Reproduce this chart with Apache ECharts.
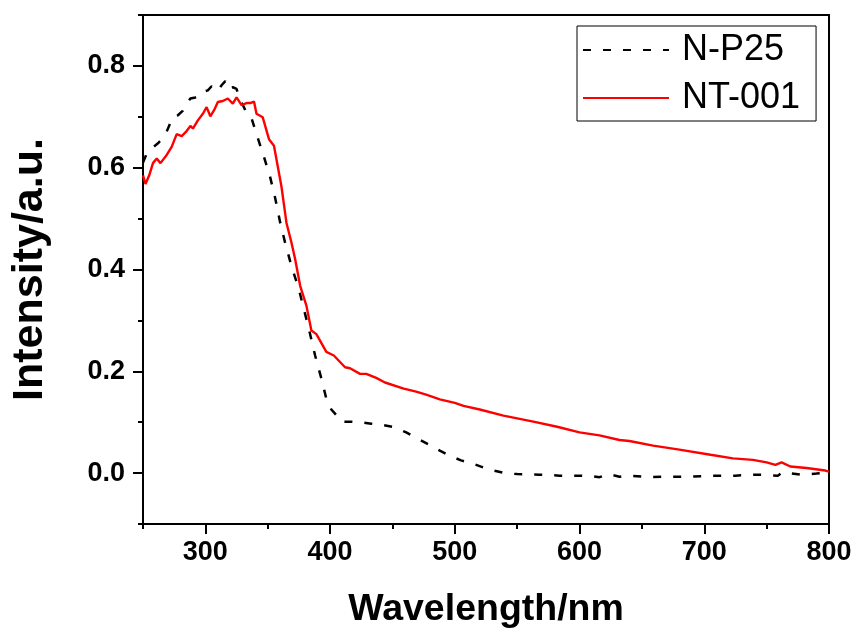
<!DOCTYPE html>
<html>
<head>
<meta charset="utf-8">
<script src="https://cdn.jsdelivr.net/npm/echarts@6/dist/echarts.min.js"></script>
<style>html,body{margin:0;padding:0;background:#fff;}#c{width:859px;height:634px;}</style>
</head>
<body>
<div id="c"></div>
<script>
// ---- Data ----
const seriesNames = ['N-P25', 'NT-001'];

const np25Wavelength = [250,253,257,262,266,269,274,278,282,285,288,292,296,298,302,305,310,313,316,318,322,325,327,332,336,341,347,352,356,360,364,369,375,379,383,388,393,397,401,405,409,416,424,433,443,452,461,470,480,488,496,505,515,523,531,540,550,568,584,600,610,616,623,632,640,656,672,688,707,725,742,759,763,777,790,800];
const np25Values = [0.610,0.628,0.638,0.648,0.658,0.671,0.700,0.703,0.712,0.726,0.736,0.738,0.742,0.749,0.752,0.760,0.751,0.762,0.770,0.755,0.758,0.755,0.739,0.713,0.705,0.666,0.621,0.581,0.540,0.492,0.452,0.407,0.361,0.322,0.283,0.231,0.186,0.146,0.125,0.114,0.101,0.101,0.100,0.097,0.094,0.090,0.080,0.068,0.055,0.044,0.034,0.025,0.018,0.011,0.005,0.000,-0.002,-0.003,-0.005,-0.005,-0.006,-0.008,-0.002,-0.007,-0.005,-0.008,-0.007,-0.007,-0.005,-0.005,-0.003,-0.005,0.002,-0.003,-0.001,0.002];

const nt001Wavelength = [250,252,255,258,261,264,269,273,277,281,285,288,290,294,298,301,304,307,310,314,318,322,325,329,333,336,339,341,346,351,355,361,365,369,372,376,381,385,389,397,403,412,416,424,429,437,444,459,469,477,488,500,507,520,539,563,582,600,616,632,640,659,680,705,723,739,750,757,762,769,782,797,800];
const nt001Values = [0.585,0.568,0.585,0.609,0.618,0.609,0.625,0.641,0.666,0.662,0.672,0.682,0.677,0.693,0.706,0.719,0.701,0.713,0.729,0.731,0.736,0.726,0.738,0.723,0.727,0.727,0.730,0.706,0.699,0.656,0.643,0.563,0.492,0.453,0.420,0.368,0.329,0.280,0.273,0.238,0.231,0.208,0.206,0.195,0.195,0.187,0.178,0.166,0.160,0.154,0.145,0.138,0.132,0.125,0.113,0.101,0.091,0.080,0.074,0.065,0.063,0.054,0.046,0.036,0.029,0.026,0.021,0.016,0.021,0.013,0.010,0.005,0.003];

const xMajorTicks = [300,400,500,600,700,800];
const yMajorTicks = [0.0,0.2,0.4,0.6,0.8];

// ---- Chart ----
const FONT = 'Liberation Sans, Arial, sans-serif';
const zip = (xs, ys) => xs.map((x, i) => [x, ys[i]]);
const chart = echarts.init(document.getElementById('c'), null, {renderer: 'canvas'});

const axisLineStyle = {color: '#000', width: 2};

chart.setOption({
  animation: false,
  backgroundColor: '#fff',
  grid: {left: 143, top: 15, right: 30, bottom: 107, show: true, borderColor: '#000', borderWidth: 2, backgroundColor: 'transparent'},
  legend: {
    data: seriesNames,
    orient: 'vertical',
    left: 577, top: 26,
    itemWidth: 86, itemHeight: 14, itemGap: 8,
    borderColor: '#000', borderWidth: 1,
    padding: [4, 16, 3, 5],
    itemStyle: {opacity: 0},
    textStyle: {fontSize: 36, fontFamily: FONT, color: '#000', lineHeight: 40, padding: [0, 0, 0, 8]}
  },
  xAxis: [{
    type: 'value', min: 250, max: 800, interval: 50,
    name: 'Wavelength/nm', nameLocation: 'middle', nameGap: 67,
    nameTextStyle: {fontSize: 37.5, fontWeight: 'bold', fontFamily: FONT, color: '#000'},
    axisLine: {show: true, onZero: false, lineStyle: axisLineStyle},
    axisTick: {show: true, length: 5, lineStyle: axisLineStyle},
    axisLabel: {fontSize: 27, fontWeight: 'bold', fontFamily: FONT, color: '#000', margin: 15,
      formatter: v => (Math.round(v) % 100 === 0 ? String(Math.round(v)) : '')},
    splitLine: {show: false}
  }, {
    type: 'value', min: 250, max: 800, position: 'bottom',
    axisLine: {show: false, onZero: false},
    axisTick: {show: true, length: 10, customValues: xMajorTicks, lineStyle: axisLineStyle},
    axisLabel: {show: false},
    splitLine: {show: false}
  }],
  yAxis: [{
    type: 'value', min: -0.1, max: 0.9, interval: 0.1,
    name: 'Intensity/a.u.', nameLocation: 'middle', nameGap: 91,
    nameTextStyle: {fontSize: 43, fontWeight: 'bold', fontFamily: FONT, color: '#000'},
    axisLine: {show: true, onZero: false, lineStyle: axisLineStyle},
    axisTick: {show: true, length: 5, lineStyle: axisLineStyle},
    axisLabel: {fontSize: 27, fontWeight: 'bold', fontFamily: FONT, color: '#000', margin: 18,
      formatter: v => {
        const k = Math.round(v * 10);
        return (k >= 0 && k <= 8 && k % 2 === 0) ? (k / 10).toFixed(1) : '';
      }},
    splitLine: {show: false}
  }, {
    type: 'value', min: -0.1, max: 0.9, position: 'left',
    axisLine: {show: false, onZero: false},
    axisTick: {show: true, length: 10, customValues: yMajorTicks, lineStyle: axisLineStyle},
    axisLabel: {show: false},
    splitLine: {show: false}
  }],
  series: [{
    name: seriesNames[0], type: 'line', xAxisIndex: 0, yAxisIndex: 0,
    data: zip(np25Wavelength, np25Values),
    showSymbol: false, symbol: 'none',
    lineStyle: {color: '#000', width: 2.5, type: [8, 12]},
    itemStyle: {color: '#000'}
  }, {
    name: seriesNames[1], type: 'line', xAxisIndex: 0, yAxisIndex: 0,
    data: zip(nt001Wavelength, nt001Values),
    showSymbol: false, symbol: 'none',
    lineStyle: {color: '#ff0000', width: 2.4},
    itemStyle: {color: '#ff0000'}
  }]
});
</script>
</body>
</html>
